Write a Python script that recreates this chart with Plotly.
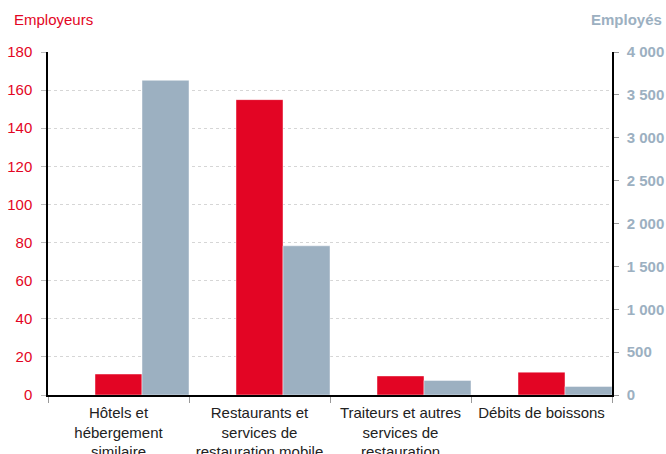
import plotly.graph_objects as go

categories = [
    "Hôtels et<br>hébergement<br>similaire",
    "Restaurants et<br>services de<br>restauration mobile",
    "Traiteurs et autres<br>services de<br>restauration",
    "Débits de boissons",
]
employeurs = [11, 155, 10, 12]
employes = [3670, 1740, 170, 100]

left_ticks = [0, 20, 40, 60, 80, 100, 120, 140, 160, 180]
right_ticks = [0, 500, 1000, 1500, 2000, 2500, 3000, 3500, 4000]
right_labels = ["0", "500", "1 000", "1 500", "2 000", "2 500", "3 000", "3 500", "4 000"]

RED = "#e30524"
GREY = "#9cb0c1"
FONT = "Liberation Sans, Arial, Helvetica, sans-serif"
FS = 15

fig = go.Figure()
fig.add_trace(go.Bar(
    x=categories, y=employeurs, name="Employeurs", yaxis="y",
    marker=dict(color=RED, line=dict(color="rgba(255,255,255,0.45)", width=1)),
    width=1/3, offset=-1/6,
))
fig.add_trace(go.Bar(
    x=categories, y=employes, name="Employés", yaxis="y2",
    marker=dict(color=GREY, line=dict(color="rgba(255,255,255,0.45)", width=1)),
    width=1/3, offset=1/6,
))

fig.update_layout(
    width=666, height=454,
    margin=dict(l=48, r=54, t=52, b=59, autoexpand=False),
    paper_bgcolor="white", plot_bgcolor="white",
    showlegend=False,
    font=dict(family=FONT, size=FS, color="#222222"),
    xaxis=dict(
        type="category", tickson="boundaries", automargin=False,
        ticks="outside", ticklen=6, tickcolor="#999999", tickwidth=1,
        showline=True, linecolor="black", linewidth=2,
        showgrid=False, tickfont=dict(size=FS, color="#222222"),
        ticklabelstandoff=3,
    ),
    yaxis=dict(
        range=[0, 180], tickvals=left_ticks, automargin=False,
        ticks="outside", ticklen=5, tickcolor="#bbbbbb",
        showline=True, linecolor="black", linewidth=1.5,
        showgrid=True, gridcolor="#d6d6d6", griddash="dot", gridwidth=1,
        zeroline=False,
        tickfont=dict(size=FS, color=RED), ticklabelstandoff=6,
    ),
    yaxis2=dict(
        range=[0, 4000], tickvals=right_ticks, ticktext=right_labels,
        overlaying="y", side="right", automargin=False,
        ticks="outside", ticklen=5, tickcolor="#999999",
        showline=True, linecolor="black", linewidth=1.5,
        showgrid=False, zeroline=False,
        tickfont=dict(size=FS, color=GREY, family=FONT, weight="bold"),
        ticklabelstandoff=5,
    ),
    annotations=[
        dict(text="Employeurs", xref="paper", yref="paper",
             x=(12 - 48) / 564, y=(395 - 19) / 343, xanchor="left", yanchor="middle",
             showarrow=False, font=dict(size=FS, color=RED)),
        dict(text="<b>Employés</b>", xref="paper", yref="paper",
             x=(664 - 48) / 564, y=(395 - 20) / 343, xanchor="right", yanchor="middle",
             showarrow=False, font=dict(size=FS, color=GREY)),
    ],
)

# remove the page's default 8px body margin so the figure fills the window exactly
fig.write_html(
    "out.html",
    config={"displayModeBar": False},
    post_script="document.body.style.margin='0';document.body.style.overflow='hidden';",
)
